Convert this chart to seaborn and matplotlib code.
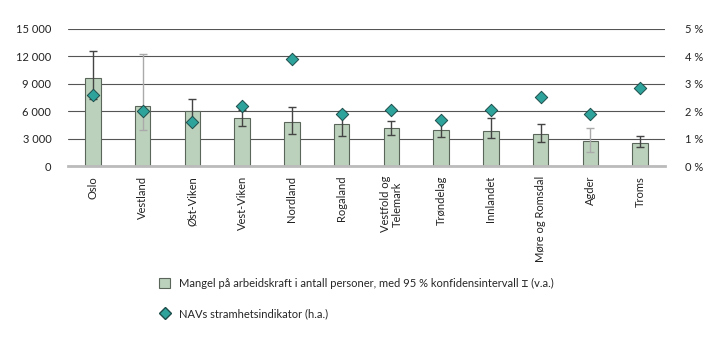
import matplotlib
matplotlib.use("Agg")
import matplotlib.pyplot as plt
import seaborn as sns
import pandas as pd
from matplotlib.lines import Line2D
from matplotlib.patches import Patch
from matplotlib.ticker import FuncFormatter

regions = ["Oslo", "Vestland", "Øst-Viken", "Vest-Viken", "Nordland", "Rogaland",
           "Vestfold og\nTelemark", "Trøndelag", "Innlandet", "Møre og Romsdal", "Agder", "Troms"]
shortage = [9650, 6600, 5980, 5290, 4860, 4640, 4200, 3990, 3880, 3450, 2790, 2530]
ci_low = [7280, 3950, 4650, 4420, 3450, 3230, 3340, 3150, 3010, 2680, 1490, 2100]
ci_high = [12570, 12250, 7320, 6150, 6490, 6050, 4970, 4830, 5290, 4640, 4200, 3230]
tightness = [2.57, 2.0, 1.6, 2.2, 3.9, 1.88, 2.04, 1.68, 2.04, 2.52, 1.88, 2.84]
light_err = ["Vestland", "Agder"]

label_bar = "Mangel på arbeidskraft i antall personer, med 95 % konfidensintervall \u2336 (v.a.)"
label_dot = "NAVs stramhetsindikator (h.a.)"

df = pd.DataFrame({"region": regions, "shortage": shortage, "low": ci_low,
                   "high": ci_high, "tight": tightness})

sns.set_style("white")
plt.rcParams["font.family"] = ["Lato", "DejaVu Sans", "DejaVu Sans Mono", "DejaVu Serif",
                               "Noto Sans CJK SC", "Noto Sans"]

bar_color = "#bcd1bc"
edge_color = "#5a665a"
dot_color = "#2ea39c"

fig = plt.figure(figsize=(7.19, 3.41), dpi=100)
ax = fig.add_axes([0.0946, 0.513, 0.8304, 0.403])

sns.barplot(data=df, x="region", y="shortage", ax=ax, color=bar_color,
            width=0.31, edgecolor=edge_color, linewidth=0.8, saturation=1)

for i, row in df.iterrows():
    col = "#aaaaaa" if row["region"] in light_err else "#444444"
    ax.errorbar(i, row["shortage"],
                yerr=[[row["shortage"] - row["low"]], [row["high"] - row["shortage"]]],
                fmt="none", ecolor=col, elinewidth=1.0, capsize=2.9, capthick=1.0, zorder=3)

ax.set_xlim(-0.5, len(regions) - 0.5)
ax.set_ylim(0, 15000)
ax.set_yticks(range(0, 15001, 3000))
ax.yaxis.set_major_formatter(FuncFormatter(lambda v, p: f"{int(v):,}".replace(",", " ")))
ax.grid(axis="y", color="#555555", linewidth=0.8)
ax.set_axisbelow(True)
for s in ["top", "right", "left"]:
    ax.spines[s].set_visible(False)
ax.spines["bottom"].set_color("#bbbbbb")
ax.spines["bottom"].set_linewidth(2)
ax.set_xlabel("")
ax.set_ylabel("")
ax.tick_params(axis="y", length=0, labelsize=8, pad=12, colors="#222222")
ax.tick_params(axis="x", length=0, labelsize=8, pad=7, colors="#222222")
ax.set_xticks(range(len(regions)))
ax.set_xticklabels(regions, rotation=90, va="top", ha="center", multialignment="center")

ax2 = ax.twinx()
sns.scatterplot(data=df, x="region", y="tight", ax=ax2, marker="D", s=40,
                color=dot_color, edgecolor="#1d4d4a", linewidth=0.7, zorder=5, legend=False)
ax2.set_ylim(0, 5)
ax2.set_yticks(range(0, 6))
ax2.yaxis.set_major_formatter(FuncFormatter(lambda v, p: f"{int(v)} %"))
ax2.tick_params(axis="y", length=0, labelsize=8, pad=14, colors="#222222")
ax2.set_ylabel("")
ax2.set_xlabel("")
for s in ax2.spines.values():
    s.set_visible(False)
ax2.set_xlim(-0.5, len(regions) - 0.5)

handles = [Patch(facecolor=bar_color, edgecolor=edge_color, linewidth=0.8, label=label_bar),
           Line2D([], [], marker="D", linestyle="none", markersize=6.5,
                  markerfacecolor=dot_color, markeredgecolor="#1d4d4a", label=label_dot)]
fig.legend(handles=handles, loc="upper left", bbox_to_anchor=(0.215, 0.198),
           frameon=False, fontsize=8, labelspacing=1.75, handlelength=1.0,
           handleheight=1.0, handletextpad=0.8, borderaxespad=0)

fig.savefig("out.png", dpi=100)
